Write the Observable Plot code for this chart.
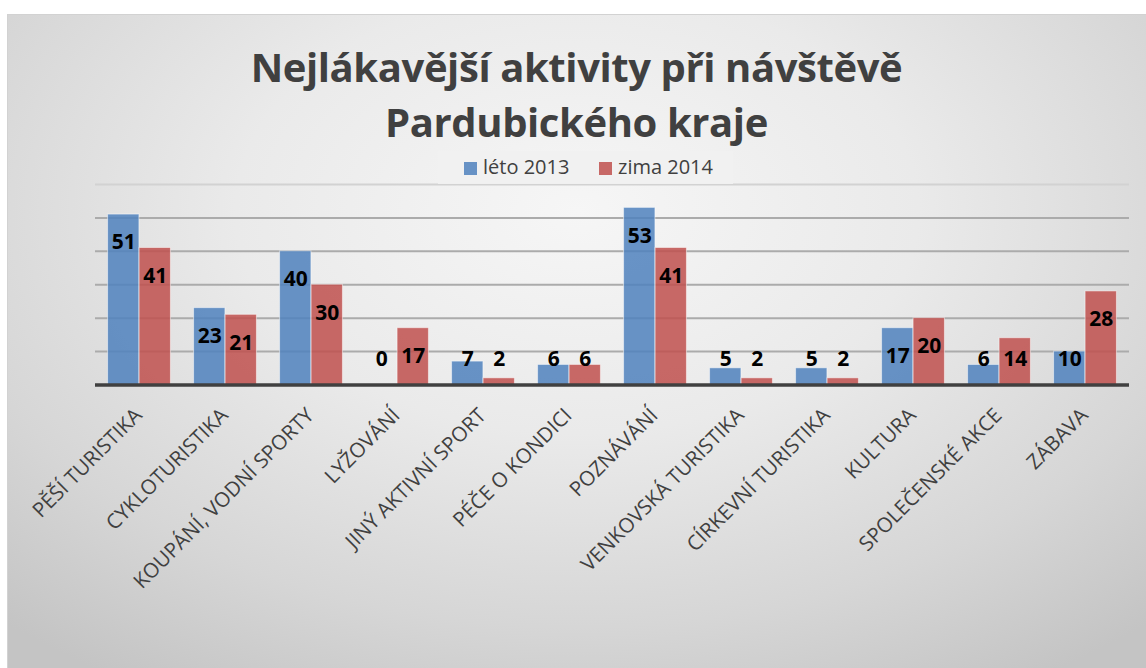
<!DOCTYPE html>
<html>
<head>
<meta charset="utf-8">
<script src="https://cdn.jsdelivr.net/npm/d3@7"></script>
<script src="https://cdn.jsdelivr.net/npm/@observablehq/plot@0.6"></script>
<style>
  body { margin: 0; background: #ffffff; font-family: "Open Sans", sans-serif; }
  #page { position: relative; width: 1146px; height: 668px; overflow: hidden; background: #fff; }
  #panel { position: absolute; left: 7px; top: 14px; width: 1139px; height: 654px;
    box-sizing: border-box; border-top: 1px solid #d2d2d2; border-left: 1px solid #d2d2d2;
    background: radial-gradient(ellipse 75% 85% at 50% 30%, #f6f6f6 0%, #eaeaea 40%, #d6d6d6 75%, #c4c4c4 100%); }
  #title { position: absolute; left: 7px; width: 1139px; top: 39px; text-align: center;
    font-weight: 700; font-size: 40px; line-height: 55px; color: #404040; letter-spacing: -0.4px; }
  #chart { position: absolute; left: 0; top: 150px; }
  #legend { position: absolute; left: 438px; top: 151px; width: 295px; height: 33px;
    background: rgba(240,240,240,0.95); }
  .sw { position: absolute; width: 13px; height: 13px; top: 162px; }
  .lt { position: absolute; top: 157px; font-size: 20px; line-height: 20px; color: #404040; white-space: nowrap; }
</style>
</head>
<body>
<div id="page">
  <div id="panel"></div>
  <div id="title">Nejlákavější aktivity při návštěvě<br>Pardubického kraje</div>
  <div id="chart"></div>
  <div id="legend"></div>
  <div class="sw" id="sw1"></div><div class="lt" id="lt1"></div>
  <div class="sw" id="sw2"></div><div class="lt" id="lt2"></div>
</div>
<script>
const categories = ["PĚŠÍ TURISTIKA", "CYKLOTURISTIKA", "KOUPÁNÍ, VODNÍ SPORTY", "LYŽOVÁNÍ",
  "JINÝ AKTIVNÍ SPORT", "PÉČE O KONDICI", "POZNÁVÁNÍ", "VENKOVSKÁ TURISTIKA",
  "CÍRKEVNÍ TURISTIKA", "KULTURA", "SPOLEČENSKÉ AKCE", "ZÁBAVA"];
const seriesNames = ["léto 2013", "zima 2014"];
const leto2013 = [51, 23, 40, 0, 7, 6, 53, 5, 5, 17, 6, 10];
const zima2014 = [41, 21, 30, 17, 2, 6, 41, 2, 2, 20, 14, 28];
const seriesColors = ["#4F81BD", "#C0504D"];
const gridTicks = [10, 20, 30, 40, 50];
const topTick = [60];

const rows = (vals) => categories.map((c, i) => ({ cat: c, v: vals[i] }));
const letoRows = rows(leto2013);
const zimaRows = rows(zima2014);
const labelY = d => Math.max(d.v - 8.4, 7.6);

const W = 1146, H = 518;
const band = (W - 95 - 17) / categories.length;
const barW = 31.5;
const inset = (band - barW) / 2;

const chart = Plot.plot({
  width: W, height: H,
  marginLeft: 95, marginRight: 17, marginTop: 34, marginBottom: 283.5,
  style: { background: "transparent", fontFamily: "'Open Sans', sans-serif", overflow: "visible" },
  x: { domain: categories, padding: 0, axis: null },
  y: { domain: [0, 60], axis: null },
  marks: [
    Plot.ruleY(gridTicks, { stroke: "#ababab", strokeWidth: 2 }),
    Plot.ruleY(topTick, { stroke: "#d2d2d2", strokeWidth: 2 }),
    Plot.barY(letoRows, { x: "cat", y: "v", fill: seriesColors[0], fillOpacity: 0.85,
      stroke: "#ffffff", strokeOpacity: 0.5, strokeWidth: 1,
      insetLeft: inset, insetRight: inset, dx: -barW / 2 }),
    Plot.barY(zimaRows, { x: "cat", y: "v", fill: seriesColors[1], fillOpacity: 0.85,
      stroke: "#ffffff", strokeOpacity: 0.5, strokeWidth: 1,
      insetLeft: inset, insetRight: inset, dx: barW / 2 }),
    Plot.ruleY([0], { stroke: "#404040", strokeWidth: 3.5 }),
    Plot.text(letoRows, { x: "cat", y: labelY, text: d => String(d.v), dx: -barW / 2,
      fill: "#000", fontWeight: 700, fontSize: 21, textAnchor: "middle", lineAnchor: "middle" }),
    Plot.text(zimaRows, { x: "cat", y: labelY, text: d => String(d.v), dx: barW / 2,
      fill: "#000", fontWeight: 700, fontSize: 21, textAnchor: "middle", lineAnchor: "middle" }),
    Plot.text(categories, { x: d => d, frameAnchor: "bottom", text: d => d, rotate: -45,
      textAnchor: "end", lineAnchor: "middle", fontSize: 20.5, fill: "#404040", dx: -1, dy: 27 })
  ]
});
document.getElementById("chart").appendChild(chart);

const sw1 = document.getElementById("sw1"), sw2 = document.getElementById("sw2");
sw1.style.left = "464px"; sw1.style.background = seriesColors[0]; sw1.style.opacity = 0.85;
sw2.style.left = "599px"; sw2.style.background = seriesColors[1]; sw2.style.opacity = 0.85;
const lt1 = document.getElementById("lt1"), lt2 = document.getElementById("lt2");
lt1.style.left = "483px"; lt1.textContent = seriesNames[0];
lt2.style.left = "618px"; lt2.textContent = seriesNames[1];
</script>
</body>
</html>
